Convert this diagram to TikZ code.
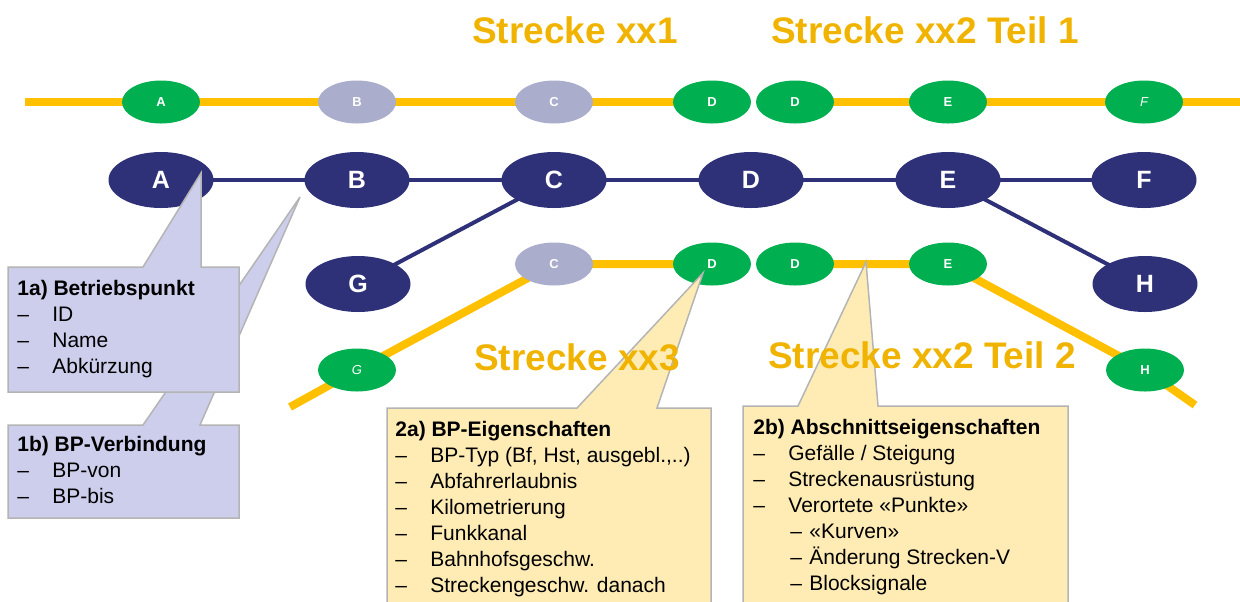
\documentclass[tikz,border=0pt]{standalone}
\usepackage{fontspec}
\setmainfont{Liberation Sans}
\usetikzlibrary{shapes.geometric, backgrounds}

\definecolor{bpdark}{HTML}{2E3178}
\definecolor{bpgreen}{HTML}{00B050}
\definecolor{bpgrey}{HTML}{ABADCC}
\definecolor{track}{HTML}{FFC000}
\definecolor{tracktitle}{HTML}{F0B400}
\definecolor{notelila}{HTML}{CDCEEB}
\definecolor{noteyellow}{HTML}{FFECB5}
\definecolor{noteline}{HTML}{B4B4B4}

\newcommand{\bpitem}[1]{\makebox[17.5pt][l]{–}#1}
\newcommand{\bpsub}[1]{\hspace*{18.5pt}\makebox[9.5pt][l]{–}#1}

\tikzset{
  bp/.style={ellipse, fill=bpdark, text=white, inner sep=0pt,
    minimum width=52.5pt, minimum height=28pt, font=\fontsize{12.5}{14}\selectfont\bfseries},
  stop/.style={ellipse, fill=bpgreen, text=white, inner sep=0pt,
    minimum width=39pt, minimum height=21.5pt, font=\fontsize{6.5}{8}\selectfont\bfseries},
  stopgrey/.style={stop, fill=bpgrey},
  link/.style={bpdark, line width=2pt},
  trackline/.style={track, line width=4pt},
  title/.style={text=tracktitle, font=\fontsize{18.5}{22}\selectfont\bfseries},
  note/.style={draw=noteline, line width=0.75pt, line join=miter},
  notetext/.style={anchor=north west, inner sep=0pt, align=left, font=\fontsize{10.5}{13}\selectfont}
}

\begin{document}
\begin{tikzpicture}[x=0.5pt, y=-0.5pt]
    \useasboundingbox (0, 0) rectangle (1240, 601);
    \clip (0, 0) rectangle (1240, 601);

    % Streckennetz oben
    \node[stop] (xa) at (161, 102) {A};
    \node[stopgrey] (xb) at (357, 102) {B};
    \node[stopgrey] (xc) at (554, 102) {C};
    \node[stop] (xd1) at (712, 102) {D};
    \node[stop] (xd2) at (795, 102) {D};
    \node[stop] (xe) at (948, 102) {E};
    \node[stop, font=\fontsize{6.5}{8}\selectfont\itshape] (xf) at (1144, 102) {F};
    \coordinate (w1) at (25, 102);
    \coordinate (e1) at (1240, 102);

    % Betriebspunkte
    \node[bp] (A) at (161, 180) {A};
    \node[bp] (B) at (357, 180) {B};
    \node[bp] (C) at (554, 180) {C};
    \node[bp] (D) at (751, 180) {D};
    \node[bp] (E) at (948, 180) {E};
    \node[bp] (F) at (1144, 180) {F};
    \node[bp] (G) at (358, 284) {G};
    \node[bp] (H) at (1145, 284) {H};

    % Streckennetz unten
    \node[stop, font=\fontsize{6.5}{8}\selectfont\itshape] (yg) at (357, 370) {G};
    \node[stopgrey] (yc) at (554, 264) {C};
    \node[stop] (yd1) at (712, 264) {D};
    \node[stop] (yd2) at (795, 264) {D};
    \node[stop] (ye) at (948, 264) {E};
    \node[stop] (yh) at (1145, 370) {H};
    \coordinate (w3) at (290, 407);
    \coordinate (e3) at (1195, 405);

    \begin{scope}[on background layer]
      \draw[trackline] (w1) -- (xa.center) -- (xb.center) -- (xc.center) -- (xd1.center);
      \draw[trackline] (xd2.center) -- (xe.center) -- (xf.center) -- (e1);
      \draw[trackline] (w3) -- (yg.center) -- (yc.center) -- (yd1.center);
      \draw[trackline] (yd2.center) -- (ye.center) -- (yh.center) -- (e3);
      \draw[link] (A.center) -- (B.center) -- (C.center) -- (D.center) -- (E.center) -- (F.center);
      \draw[link] (C.center) -- (G.center);
      \draw[link] (E.center) -- (H.center);
    \end{scope}

    % Legenden
    \filldraw[note, fill=notelila] (8, 425) -- (143, 425) -- (300, 197) -- (200, 425) -- (239, 425) -- (239, 518) -- (8, 518) -- cycle;
    \filldraw[note, fill=notelila] (8, 267) -- (143, 267) -- (201, 173) -- (201, 267) -- (239, 267) -- (239, 392) -- (8, 392) -- cycle;
    \filldraw[note, fill=noteyellow] (387, 408) -- (577, 408) -- (703, 273) -- (657, 408) -- (711, 408) -- (711, 620) -- (387, 620) -- cycle;
    \filldraw[note, fill=noteyellow] (743, 406) -- (798, 406) -- (866, 262) -- (878, 406) -- (1068, 406) -- (1068, 620) -- (743, 620) -- cycle;

    \node[notetext] (n1a) at (17, 280) {\textbf{1a) Betriebspunkt}\\ \bpitem{ID}\\ \bpitem{Name}\\ \bpitem{Abkürzung}};
    \node[notetext] (n1b) at (17, 436) {\textbf{1b) BP-Verbindung}\\ \bpitem{BP-von}\\ \bpitem{BP-bis}};
    \node[notetext] (n2a) at (395, 421) {\textbf{2a) BP-Eigenschaften}\\ \bpitem{BP-Typ (Bf, Hst, ausgebl.,..)}\\ \bpitem{Abfahrerlaubnis}\\
      \bpitem{Kilometrierung}\\ \bpitem{Funkkanal}\\ \bpitem{Bahnhofsgeschw.}\\ \bpitem{Streckengeschw. danach}};
    \node[notetext] (n2b) at (753, 419) {\textbf{2b) Abschnittseigenschaften}\\ \bpitem{Gefälle / Steigung}\\ \bpitem{Streckenausrüstung}\\
      \bpitem{Verortete «Punkte»}\\ \bpsub{«Kurven»}\\ \bpsub{Änderung Strecken-V}\\ \bpsub{Blocksignale}};

    % Streckennamen
    \node[title] (s1) at (575, 30) {Strecke xx1};
    \node[title] (s21) at (925, 30) {Strecke xx2 Teil 1};
    \node[title] (s3) at (577, 357) {Strecke xx3};
    \node[title] (s22) at (922, 355) {Strecke xx2 Teil 2};
  \end{tikzpicture}
\end{document}
